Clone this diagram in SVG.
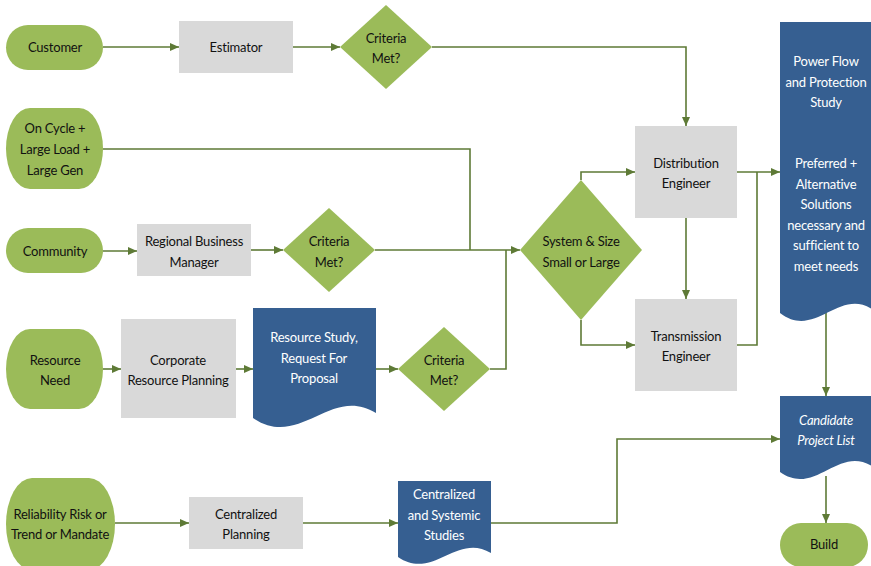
<svg xmlns="http://www.w3.org/2000/svg" width="871" height="566" viewBox="0 0 871 566">
  <defs>
    <marker id="arrow" markerWidth="10" markerHeight="8" refX="9" refY="4" orient="auto" markerUnits="userSpaceOnUse">
      <path d="M0,0 L9,4 L0,8 Z" fill="#5E7A36"/>
    </marker>
    <style>
      .term { fill: #9BBB59; }
      .dia { fill: #9BBB59; }
      .proc { fill: #D9D9D9; }
      .doc { fill: #365F91; }
      .conn { fill: none; stroke: #5E7A36; stroke-width: 1.6; }
      .arr { marker-end: url(#arrow); }
      text { font-family: "Lato", "Liberation Sans", sans-serif; font-size: 13px; letter-spacing: -0.2px; text-anchor: middle; fill: #111111; }
      .light { fill: #FFFFFF; }
      .it { font-style: italic; }
    </style>
  </defs>

  <!-- connectors -->
  <g id="connectors">
    <path class="conn arr" d="M103,47 H179"/>
    <path class="conn arr" d="M293,47 H340"/>
    <path class="conn arr" d="M432,47 H686 V126"/>
    <path class="conn" d="M103,149 H470 V250"/>
    <path class="conn arr" d="M103,251 H137"/>
    <path class="conn arr" d="M251,250 H283"/>
    <path class="conn arr" d="M375,250 H520"/>
    <path class="conn arr" d="M103,369 H121"/>
    <path class="conn arr" d="M236,369 H253"/>
    <path class="conn arr" d="M376,369 H398"/>
    <path class="conn" d="M490,369 H506 V250"/>
    <path class="conn arr" d="M581,180 V172 H635"/>
    <path class="conn arr" d="M581,320 V345 H635"/>
    <path class="conn arr" d="M686,218 V299"/>
    <path class="conn arr" d="M737,172 H780"/>
    <path class="conn" d="M737,345 H757 V172"/>
    <path class="conn arr" d="M826,312 V396"/>
    <path class="conn arr" d="M826,476 V523"/>
    <path class="conn arr" d="M115,523 H189"/>
    <path class="conn arr" d="M303,523 H398"/>
    <path class="conn arr" d="M491,523 H617 V439 H780"/>
  </g>

  <!-- start / end terminators -->
  <g id="customer">
    <rect class="term" x="6" y="25" width="97" height="45" rx="22" ry="22.5"/>
    <text x="55" y="52">Customer</text>
  </g>
  <g id="on-cycle">
    <rect class="term" x="6" y="108" width="97" height="81" rx="24" ry="40.5"/>
    <text x="55" y="133">On Cycle +</text>
    <text x="55" y="154">Large Load +</text>
    <text x="55" y="175">Large Gen</text>
  </g>
  <g id="community">
    <rect class="term" x="6" y="228" width="97" height="45" rx="22" ry="22.5"/>
    <text x="55" y="256">Community</text>
  </g>
  <g id="resource-need">
    <rect class="term" x="6" y="329" width="97" height="80" rx="24" ry="40"/>
    <text x="55" y="365">Resource</text>
    <text x="55" y="385">Need</text>
  </g>
  <g id="reliability">
    <rect class="term" x="6" y="478" width="109" height="92" rx="26" ry="46"/>
    <text x="60" y="519">Reliability Risk or</text>
    <text x="60" y="539">Trend or Mandate</text>
  </g>
  <g id="build">
    <rect class="term" x="780" y="523" width="88" height="44" rx="21" ry="22"/>
    <text x="824" y="549">Build</text>
  </g>

  <!-- process boxes -->
  <g id="estimator">
    <rect class="proc" x="179" y="21" width="114" height="52"/>
    <text x="236" y="52">Estimator</text>
  </g>
  <g id="regional-business-manager">
    <rect class="proc" x="137" y="224" width="114" height="52"/>
    <text x="194" y="246">Regional Business</text>
    <text x="194" y="267">Manager</text>
  </g>
  <g id="corporate-resource-planning">
    <rect class="proc" x="121" y="319" width="115" height="99"/>
    <text x="178" y="365">Corporate</text>
    <text x="178" y="385">Resource Planning</text>
  </g>
  <g id="centralized-planning">
    <rect class="proc" x="189" y="497" width="114" height="52"/>
    <text x="246" y="519">Centralized</text>
    <text x="246" y="539">Planning</text>
  </g>
  <g id="distribution-engineer">
    <rect class="proc" x="635" y="126" width="102" height="92"/>
    <text x="686" y="168">Distribution</text>
    <text x="686" y="188">Engineer</text>
  </g>
  <g id="transmission-engineer">
    <rect class="proc" x="635" y="299" width="102" height="92"/>
    <text x="686" y="341">Transmission</text>
    <text x="686" y="361">Engineer</text>
  </g>

  <!-- decisions -->
  <g id="criteria-1">
    <polygon class="dia" points="340,47 386,5 432,47 386,89"/>
    <text x="386" y="43">Criteria</text>
    <text x="386" y="63">Met?</text>
  </g>
  <g id="criteria-2">
    <polygon class="dia" points="283,250 329,208 375,250 329,292"/>
    <text x="329" y="246">Criteria</text>
    <text x="329" y="267">Met?</text>
  </g>
  <g id="criteria-3">
    <polygon class="dia" points="398,369 444,327 490,369 444,411"/>
    <text x="444" y="365">Criteria</text>
    <text x="444" y="385">Met?</text>
  </g>
  <g id="system-size">
    <polygon class="dia" points="520,250 581,180 642,250 581,320"/>
    <text x="581" y="246">System &amp; Size</text>
    <text x="581" y="267">Small or Large</text>
  </g>

  <!-- documents -->
  <g id="resource-study">
    <path class="doc" d="M253,308 H376 V413 C330,385 300,450 253,418 Z"/>
    <text class="light" x="314" y="342">Resource Study,</text>
    <text class="light" x="314" y="363">Request For</text>
    <text class="light" x="314" y="383">Proposal</text>
  </g>
  <g id="centralized-studies">
    <path class="doc" d="M398,481 H491 V553 C457,532 433,581 398,557 Z"/>
    <text class="light" x="444" y="499">Centralized</text>
    <text class="light" x="444" y="520">and Systemic</text>
    <text class="light" x="444" y="540">Studies</text>
  </g>
  <g id="power-flow-study">
    <path class="doc" d="M780,22 H872 V309 C838,288 815,340 780,313 Z"/>
    <text class="light" x="826" y="66">Power Flow</text>
    <text class="light" x="826" y="87">and Protection</text>
    <text class="light" x="826" y="107">Study</text>
    <text class="light" x="826" y="168">Preferred +</text>
    <text class="light" x="826" y="189">Alternative</text>
    <text class="light" x="826" y="209">Solutions</text>
    <text class="light" x="826" y="230">necessary and</text>
    <text class="light" x="826" y="250">sufficient to</text>
    <text class="light" x="826" y="271">meet needs</text>
  </g>
  <g id="candidate-project-list">
    <path class="doc" d="M780,396 H872 V466 C838,445 815,497 780,472 Z"/>
    <text class="light it" x="826" y="425">Candidate</text>
    <text class="light it" x="826" y="445">Project List</text>
  </g>
</svg>
